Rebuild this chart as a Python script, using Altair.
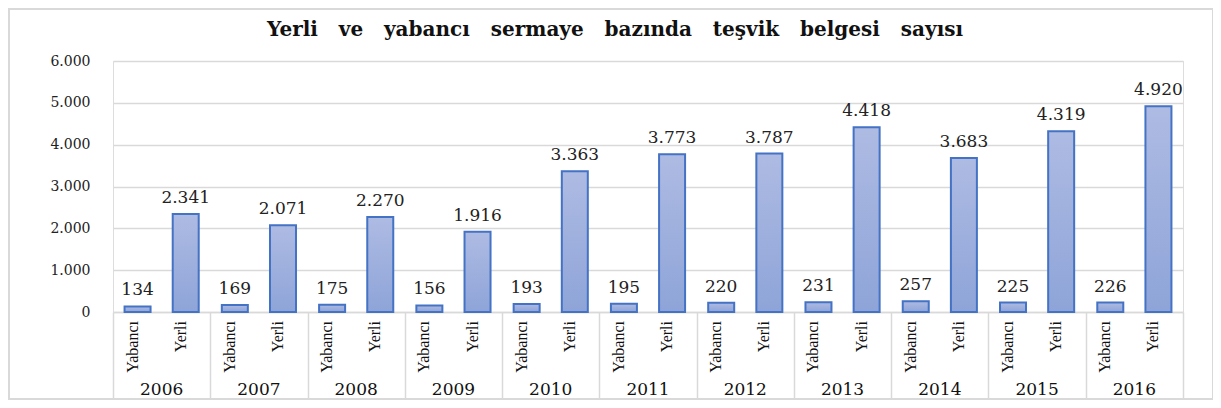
import altair as alt
import pandas as pd

years = ["2006", "2007", "2008", "2009", "2010", "2011", "2012", "2013", "2014", "2015", "2016"]
yabanci = [134, 169, 175, 156, 193, 195, 220, 231, 257, 225, 226]
yerli = [2341, 2071, 2270, 1916, 3363, 3773, 3787, 4418, 3683, 4319, 4920]
types = ["Yabancı", "Yerli"]
title_words = ["Yerli", "ve", "yabancı", "sermaye", "bazında", "teşvik", "belgesi", "sayısı"]
title_text = "\u00a0\u00a0\u00a0".join(title_words)
y_ticks = [0, 1000, 2000, 3000, 4000, 5000, 6000]

rows = []
for i, yr in enumerate(years):
    rows.append({"year": yr, "type": types[0], "value": yabanci[i]})
    rows.append({"year": yr, "type": types[1], "value": yerli[i]})
df = pd.DataFrame(rows)

W, H = 1070, 251
GRID = "#d9d9d9"
NUM_FONT = "DejaVu Serif"

x_enc = alt.X("year:N", sort=years,
              scale=alt.Scale(paddingInner=0, paddingOuter=0),
              axis=alt.Axis(title=None, labels=False, ticks=True, tickBand="extent",
                            tickSize=86, tickColor=GRID, tickWidth=1.5,
                            domainColor=GRID, domainWidth=1.5, grid=False))
xo_enc = alt.XOffset("type:N", sort=types,
                     scale=alt.Scale(paddingInner=0.46, paddingOuter=0.24))
y_enc = alt.Y("value:Q",
              scale=alt.Scale(domain=[0, 6000], nice=False),
              axis=alt.Axis(title=None, values=y_ticks, ticks=False, domain=False,
                            gridColor=GRID, gridWidth=1.5, labelFont=NUM_FONT,
                            labelFontSize=14, labelColor="#222222", labelPadding=23,
                            labelExpr="replace(format(datum.value, ','), ',', '.')"))

base = alt.Chart(df)

border = alt.Chart(pd.DataFrame({"a": [1]})).mark_rect(
    fill=None, stroke=GRID, strokeWidth=2
).encode(x=alt.value(-104), x2=alt.value(1100), y=alt.value(-52), y2=alt.value(338))

bars = base.mark_bar(
    stroke="#4472c4", strokeWidth=2,
    color=alt.Gradient(gradient="linear",
                       stops=[alt.GradientStop(color="#aebbe3", offset=0),
                              alt.GradientStop(color="#8ea4d8", offset=1)],
                       x1=0, x2=0, y1=0, y2=1)
).encode(x=x_enc, xOffset=xo_enc, y=y_enc)

value_labels = base.transform_calculate(
    lbl="replace(format(datum.value, ','), ',', '.')"
).mark_text(font=NUM_FONT, fontSize=17, color="#222222", baseline="bottom", dy=-7).encode(
    x=alt.X("year:N", sort=years), xOffset=alt.XOffset("type:N", sort=types),
    y="value:Q", text="lbl:N")

type_labels = base.mark_text(font="Liberation Serif", fontSize=16, color="#111111",
                             angle=270, align="right", baseline="alphabetic").encode(
    x=alt.X("year:N", sort=years), xOffset=alt.XOffset("type:N", sort=types),
    y=alt.value(H + 9), text="type:N")

year_df = pd.DataFrame({"year": years})
year_labels = alt.Chart(year_df).mark_text(font=NUM_FONT, fontSize=17, color="#111111",
                                           baseline="middle").encode(
    x=alt.X("year:N", sort=years), y=alt.value(H + 78), text="year:N")

title = alt.Chart(pd.DataFrame({"t": [title_text]})).mark_text(
    font=NUM_FONT, fontSize=20, fontWeight="bold", color="#111111", baseline="middle"
).encode(x=alt.value(502), y=alt.value(-31), text="t:N")

chart = alt.layer(border, bars, value_labels, type_labels, year_labels, title).properties(
    width=W, height=H,
    autosize=alt.AutoSizeParams(type="none"),
    padding={"left": 105, "top": 53, "right": 30, "bottom": 90},
).configure_view(stroke=None).configure(background="white")

chart.save("out.html", embed_options={"renderer": "svg", "actions": False})
